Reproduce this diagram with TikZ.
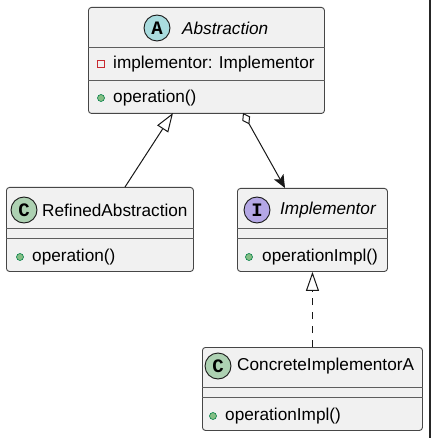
\documentclass[tikz,border=0pt]{standalone}
\usepackage{fontspec}
\setmainfont{Liberation Sans}
\newfontfamily\circfont{Liberation Mono}
\usetikzlibrary{arrows.meta}
\definecolor{boxfill}{HTML}{F1F1F1}
\definecolor{boxline}{HTML}{181818}
\definecolor{colA}{HTML}{A9DCDF}
\definecolor{colC}{HTML}{ADD1B2}
\definecolor{colI}{HTML}{B4A7E5}
\definecolor{privred}{HTML}{C82930}
\definecolor{pubgreen}{HTML}{84BE84}
\definecolor{publine}{HTML}{038048}
\tikzset{
  cls/.style={draw=boxline!80, fill=boxfill, line width=0.9pt, rounded corners=3pt, inner sep=0pt},
  sepl/.style={draw=boxline!70, line width=0.8pt},
  circ/.style={circle, draw=boxline, line width=0.9pt, minimum size=26pt, inner sep=0pt, font=\circfont\bfseries\fontsize{19}{19}\selectfont},
  txt/.style={anchor=west, inner sep=0pt, font=\fontsize{17.2}{20}\selectfont, text=black},
  ttl/.style={txt, font=\itshape\fontsize{17.2}{20}\selectfont},
  priv/.style={draw=privred, line width=0.9pt, minimum size=7pt, inner sep=0pt, fill=none},
  pub/.style={circle, draw=publine, fill=pubgreen, line width=0.6pt, minimum size=7pt, inner sep=0pt},
  conn/.style={draw=boxline, line width=1pt},
}
\begin{document}
\begin{tikzpicture}[x=1pt,y=-1pt]
\useasboundingbox (0,0) rectangle (431,438);
\fill[white] (0,0) rectangle (431,438);
\draw[line width=2pt, draw=black!85] (429.5,0) -- (429.5,438);

% Abstraction
\node[cls, minimum width=236pt, minimum height=106pt, anchor=north west] (abs) at (88,7) {};
\draw[sepl] ([yshift=-40pt]abs.north west) -- ([yshift=-40pt]abs.north east);
\draw[sepl] ([yshift=-73pt]abs.north west) -- ([yshift=-73pt]abs.north east);
\node[circ, fill=colA] (absI) at (157,28) {A};
\node[ttl] (absT) at (182,28) {Abstraction};
\node[priv] (absP) at (101,64) {};
\node[txt] (absF) at (113,64) {implementor: Implementor};
\node[pub] (absM) at (101,98) {};
\node[txt] (absO) at (113,98) {operation()};

% RefinedAbstraction
\node[cls, minimum width=187pt, minimum height=84pt, anchor=north west] (ref) at (6,187) {};
\draw[sepl] ([yshift=-41pt]ref.north west) -- ([yshift=-41pt]ref.north east);
\draw[sepl] ([yshift=-51pt]ref.north west) -- ([yshift=-51pt]ref.north east);
\node[circ, fill=colC] (refI) at (24,210) {C};
\node[txt] (refT) at (42,210) {RefinedAbstraction};
\node[pub] (refM) at (20,257) {};
\node[txt] (refO) at (32,257) {operation()};

% Implementor
\node[cls, minimum width=150pt, minimum height=83pt, anchor=north west] (imp) at (237,188) {};
\draw[sepl] ([yshift=-40pt]imp.north west) -- ([yshift=-40pt]imp.north east);
\draw[sepl] ([yshift=-50pt]imp.north west) -- ([yshift=-50pt]imp.north east);
\node[circ, fill=colI] (impI) at (257,210) {I};
\node[ttl] (impT) at (280,210) {Implementor};
\node[pub] (impM) at (249,257) {};
\node[txt] (impO) at (262,257) {operationImpl()};

% ConcreteImplementorA
\node[cls, minimum width=220pt, minimum height=83pt, anchor=north west] (con) at (202,347) {};
\draw[sepl] ([yshift=-40pt]con.north west) -- ([yshift=-40pt]con.north east);
\draw[sepl] ([yshift=-50pt]con.north west) -- ([yshift=-50pt]con.north east);
\node[circ, fill=colC] (conI) at (218,366) {C};
\node[txt] (conT) at (237,366) {ConcreteImplementorA};
\node[pub] (conM) at (213,416) {};
\node[txt] (conO) at (225,416) {operationImpl()};

% connectors
\coordinate (refTop) at (125,187);
\coordinate (absB1) at (173,113);
\coordinate (absB2) at (243,113);
\coordinate (impTop) at (285,188);
\draw[conn, -{Triangle[open, length=19pt, width=13pt, fill=white]}] (refTop) -- (absB1);
\draw[conn, {Diamond[open, length=13pt, width=9pt, fill=white]}-{Stealth[length=13pt, width=11pt, inset=3pt]}] (absB2) -- (impTop);
\draw[conn, dash pattern=on 7pt off 7pt, -{Triangle[open, length=19pt, width=13pt, fill=white]}] (con.north) -- (imp.south);
\end{tikzpicture}
\end{document}
